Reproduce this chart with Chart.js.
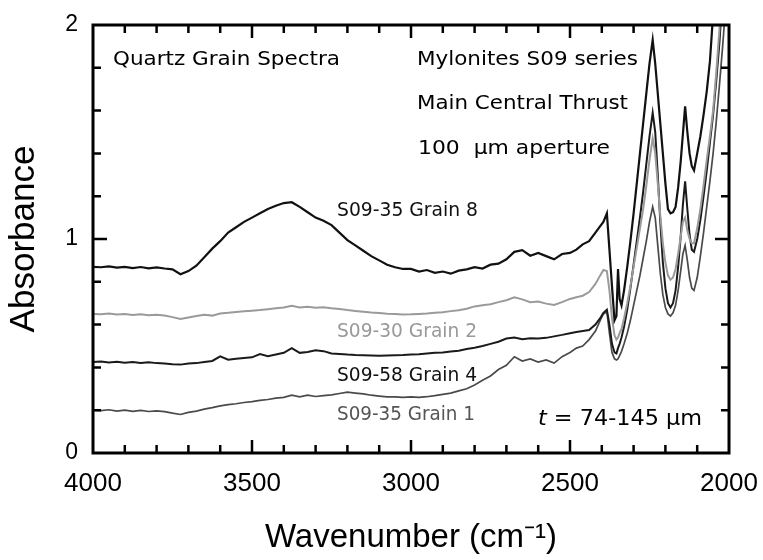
<!DOCTYPE html>
<html>
<head>
<meta charset="utf-8">
<title>Quartz Grain Spectra</title>
<script src="https://cdn.jsdelivr.net/npm/chart.js"></script>
<style>
  body { margin: 0; background: #fff; }
  canvas { display: block; }
</style>
</head>
<body>
<canvas id="chart" width="763" height="560"></canvas>
<script>
// wavenumber grid (cm-1), coarse over the OH band, finer over the CO2 / overtone region
const wavenumbers = [
  4000, 3975, 3950, 3925, 3900, 3875, 3850, 3825, 3800, 3775,
  3750, 3725, 3700, 3675, 3650, 3625, 3600, 3575, 3550, 3525,
  3500, 3475, 3450, 3425, 3400, 3375, 3350, 3325, 3300, 3275,
  3250, 3225, 3200, 3175, 3150, 3125, 3100, 3075, 3050, 3025,
  3000, 2975, 2950, 2925, 2900, 2875, 2850, 2825, 2800, 2775,
  2750, 2725, 2700, 2675, 2650, 2625, 2600, 2575, 2550, 2525,
  2500,
  2480, 2460, 2440, 2420, 2405, 2395, 2384, 2376, 2368, 2360,
  2354, 2349, 2344, 2338, 2330, 2320, 2310, 2300, 2290, 2280,
  2270, 2260, 2250, 2240, 2232, 2224, 2216, 2208, 2200, 2192,
  2184, 2176, 2168, 2160, 2152, 2145, 2138, 2131, 2124, 2117,
  2110, 2100, 2090, 2080, 2070, 2060, 2050, 2040, 2030, 2020,
  2010, 2000
];

const grain8 = [
  0.870, 0.868, 0.872, 0.866, 0.870, 0.864, 0.869, 0.863, 0.867, 0.862,
  0.858, 0.835, 0.850, 0.875, 0.915, 0.955, 0.990, 1.030, 1.055, 1.080,
  1.100, 1.120, 1.140, 1.155, 1.168, 1.172, 1.150, 1.125, 1.100, 1.085,
  1.065, 1.030, 0.995, 0.970, 0.945, 0.920, 0.900, 0.880, 0.868, 0.860,
  0.860, 0.848, 0.855, 0.842, 0.848, 0.838, 0.852, 0.858, 0.868, 0.862,
  0.880, 0.885, 0.905, 0.940, 0.948, 0.922, 0.935, 0.920, 0.905, 0.930,
  0.935,
  0.950, 0.975, 0.990, 1.030, 1.060, 1.080, 1.120, 0.950, 0.780, 0.620,
  0.640, 0.860, 0.720, 0.690, 0.760, 0.870, 0.990, 1.120, 1.260, 1.400,
  1.540, 1.680, 1.820, 1.930, 1.820, 1.680, 1.540, 1.400, 1.260, 1.140,
  1.120, 1.125, 1.150, 1.240, 1.360, 1.490, 1.620, 1.500, 1.400, 1.340,
  1.320, 1.400, 1.480, 1.580, 1.690, 1.830, 2.050, 2.350, 2.700, 3.000,
  3.300, 3.600
];

const grain2 = [
  0.650, 0.648, 0.652, 0.647, 0.650, 0.645, 0.648, 0.644, 0.646, 0.642,
  0.635, 0.626, 0.633, 0.640, 0.646, 0.642, 0.652, 0.655, 0.659, 0.662,
  0.665, 0.668, 0.672, 0.676, 0.680, 0.688, 0.680, 0.683, 0.679, 0.681,
  0.676, 0.673, 0.668, 0.664, 0.660, 0.656, 0.654, 0.651, 0.649, 0.647,
  0.648, 0.650, 0.652, 0.655, 0.658, 0.663, 0.667, 0.674, 0.685, 0.690,
  0.695, 0.705, 0.714, 0.728, 0.718, 0.705, 0.708, 0.698, 0.692, 0.705,
  0.720,
  0.728, 0.735, 0.752, 0.790, 0.830, 0.855, 0.850, 0.760, 0.630, 0.550,
  0.530, 0.540, 0.560, 0.580, 0.630, 0.700, 0.780, 0.870, 0.960, 1.050,
  1.140, 1.250, 1.370, 1.470, 1.400, 1.260, 1.110, 0.980, 0.890, 0.830,
  0.810, 0.820, 0.860, 0.930, 1.010, 1.080, 1.100, 1.040, 1.000, 0.980,
  0.980, 1.050, 1.140, 1.250, 1.370, 1.480, 1.600, 1.780, 1.980, 2.250,
  2.550, 2.900
];

const grain4 = [
  0.425, 0.427, 0.423, 0.426, 0.422, 0.425, 0.421, 0.424, 0.420, 0.418,
  0.415, 0.413, 0.418, 0.420, 0.425, 0.430, 0.452, 0.436, 0.440, 0.444,
  0.447, 0.462, 0.452, 0.460, 0.468, 0.490, 0.468, 0.472, 0.480, 0.476,
  0.465, 0.463, 0.460, 0.458, 0.457, 0.456, 0.455, 0.456, 0.457, 0.458,
  0.460, 0.462, 0.465, 0.468, 0.470, 0.474, 0.478, 0.486, 0.492, 0.500,
  0.510, 0.520, 0.535, 0.540, 0.532, 0.536, 0.535, 0.538, 0.545, 0.552,
  0.560,
  0.565, 0.570, 0.575, 0.600, 0.630, 0.655, 0.670, 0.600, 0.510, 0.470,
  0.465, 0.490, 0.510, 0.540, 0.590, 0.670, 0.770, 0.880, 0.990, 1.100,
  1.220, 1.350, 1.480, 1.590, 1.500, 1.300, 1.080, 0.890, 0.770, 0.700,
  0.680, 0.700, 0.760, 0.870, 1.010, 1.160, 1.270, 1.140, 1.020, 0.950,
  0.940, 1.000, 1.090, 1.200, 1.320, 1.450, 1.580, 1.740, 1.920, 2.150,
  2.450, 2.800
];

const grain1 = [
  0.200, 0.198, 0.202, 0.196, 0.200, 0.195, 0.199, 0.194, 0.197, 0.193,
  0.186, 0.180, 0.190, 0.196, 0.205, 0.212, 0.220, 0.226, 0.230, 0.236,
  0.240, 0.246, 0.250, 0.256, 0.260, 0.270, 0.262, 0.270, 0.264, 0.268,
  0.272, 0.278, 0.284, 0.280, 0.276, 0.270, 0.266, 0.262, 0.262, 0.260,
  0.262, 0.260, 0.263, 0.268, 0.274, 0.280, 0.290, 0.300, 0.318, 0.340,
  0.360, 0.390, 0.410, 0.450, 0.430, 0.440, 0.425, 0.435, 0.420, 0.450,
  0.470,
  0.490, 0.500, 0.530, 0.570, 0.620, 0.650, 0.660, 0.560, 0.470, 0.440,
  0.435, 0.440, 0.455, 0.475, 0.510, 0.560, 0.620, 0.690, 0.760, 0.830,
  0.910, 0.990, 1.080, 1.150, 1.100, 0.970, 0.840, 0.740, 0.680, 0.650,
  0.640, 0.655, 0.690, 0.760, 0.850, 0.930, 0.970, 0.900, 0.820, 0.770,
  0.760, 0.820, 0.920, 1.030, 1.150, 1.270, 1.400, 1.550, 1.720, 1.900,
  2.100, 2.350
];

const xTickLabels = [4000, 3500, 3000, 2500, 2000];
const yTickLabels = [0, 1, 2];

const series = [
  { label: 'S09-35 Grain 8', values: grain8, color: '#111', width: 2.2 },
  { label: 'S09-30 Grain 2', values: grain2, color: '#9a9a9a', width: 2 },
  { label: 'S09-58 Grain 4', values: grain4, color: '#1a1a1a', width: 2 },
  { label: 'S09-35 Grain 1', values: grain1, color: '#4a4a4a', width: 1.7 }
];

// text placed inside the frame: left x, baseline y, target width, font size
const notes = [
  { parts: [['Quartz Grain Spectra']], x: 113, y: 65, w: 227, size: 20, color: '#000' },
  { parts: [['Mylonites S09 series']], x: 417, y: 65, w: 221, size: 20, color: '#000' },
  { parts: [['Main Central Thrust']], x: 417, y: 109, w: 211, size: 20, color: '#000' },
  { parts: [['100  μm aperture']], x: 418, y: 154, w: 192, size: 20, color: '#000' },
  { parts: [['S09-35 Grain 8']], x: 337, y: 216, w: 141, size: 20, color: '#111' },
  { parts: [['S09-30 Grain 2']], x: 337, y: 337, w: 140, size: 20, color: '#999' },
  { parts: [['S09-58 Grain 4']], x: 337, y: 381, w: 140, size: 20, color: '#111' },
  { parts: [['S09-35 Grain 1']], x: 337, y: 420, w: 138, size: 20, color: '#555' },
  { parts: [['t', 'italic'], [' = 74-145 μm']], x: 538, y: 425, w: 164, size: 21, color: '#000' }
];

const frameTicks = {
  id: 'frameTicks',
  afterDatasetsDraw(chart) {
    const { ctx, chartArea: a, scales: { x, y } } = chart;
    ctx.save();
    ctx.strokeStyle = '#000';
    ctx.lineWidth = 2.5;
    ctx.beginPath();
    for (let w = 2100; w < 4000; w += 100) {
      const px = x.getPixelForValue(w);
      const len = w % 500 === 0 ? 13 : 8;
      ctx.moveTo(px, a.bottom); ctx.lineTo(px, a.bottom - len);
      ctx.moveTo(px, a.top); ctx.lineTo(px, a.top + len);
    }
    for (let i = 1; i < 10; i++) {
      const py = y.getPixelForValue(i / 5);
      const len = i === 5 ? 14 : 8;
      ctx.moveTo(a.left, py); ctx.lineTo(a.left + len, py);
      ctx.moveTo(a.right, py); ctx.lineTo(a.right - len, py);
    }
    ctx.stroke();
    ctx.lineWidth = 3;
    ctx.strokeRect(a.left, a.top, a.right - a.left, a.bottom - a.top);
    ctx.restore();
  }
};

const noteText = {
  id: 'noteText',
  afterDraw(chart) {
    const ctx = chart.ctx;
    notes.forEach(n => {
      const font = (style) => (style || 'normal') + ' ' + n.size + 'px "DejaVu Sans"';
      ctx.save();
      let total = 0;
      n.parts.forEach(([t, s]) => { ctx.font = font(s); total += ctx.measureText(t).width; });
      ctx.translate(n.x, n.y);
      ctx.scale(n.w / total, 1);
      ctx.fillStyle = n.color;
      ctx.textBaseline = 'alphabetic';
      let cx = 0;
      n.parts.forEach(([t, s]) => {
        ctx.font = font(s);
        ctx.fillText(t, cx, 0);
        cx += ctx.measureText(t).width;
      });
      ctx.restore();
    });
  }
};

new Chart(document.getElementById('chart'), {
  type: 'line',
  data: {
    datasets: series.map(s => ({
      label: s.label,
      data: wavenumbers.map((w, i) => ({ x: w, y: s.values[i] })),
      borderColor: s.color,
      borderWidth: s.width,
      pointRadius: 0,
      tension: 0,
      fill: false
    }))
  },
  options: {
    responsive: false,
    animation: false,
    layout: { padding: { top: 25, right: 34, left: 0, bottom: 0 } },
    plugins: { legend: { display: false }, tooltip: { enabled: false } },
    scales: {
      x: {
        type: 'linear',
        reverse: true,
        min: 2000,
        max: 4000,
        afterFit(s) { s.height = 107; s.paddingLeft = 0; s.paddingRight = 0; },
        afterBuildTicks(s) { s.ticks = xTickLabels.map(v => ({ value: v })); },
        grid: { display: false, drawTicks: false },
        border: { display: false },
        ticks: {
          padding: 15,
          maxRotation: 0,
          color: '#000',
          font: { family: '"Liberation Sans", Arial', size: 26 },
          callback: v => String(v)
        },
        title: {
          display: true,
          text: 'Wavenumber (cm⁻¹)',
          color: '#000',
          font: { family: '"Liberation Sans", Arial', size: 33 },
          padding: { top: 0, bottom: 2 }
        }
      },
      y: {
        min: 0,
        max: 2,
        afterFit(s) { s.width = 93; s.paddingTop = 0; s.paddingBottom = 0; },
        afterBuildTicks(s) { s.ticks = yTickLabels.map(v => ({ value: v })); },
        grid: { display: false, drawTicks: false },
        border: { display: false },
        ticks: {
          padding: 15,
          color: '#000',
          font: { family: '"Liberation Sans", Arial', size: 23 },
          callback: v => String(v)
        },
        title: {
          display: true,
          text: 'Absorbance',
          color: '#000',
          font: { family: '"Liberation Sans", Arial', size: 35 },
          padding: { top: 3, bottom: 0 }
        }
      }
    }
  },
  plugins: [frameTicks, noteText]
});
</script>
</body>
</html>
